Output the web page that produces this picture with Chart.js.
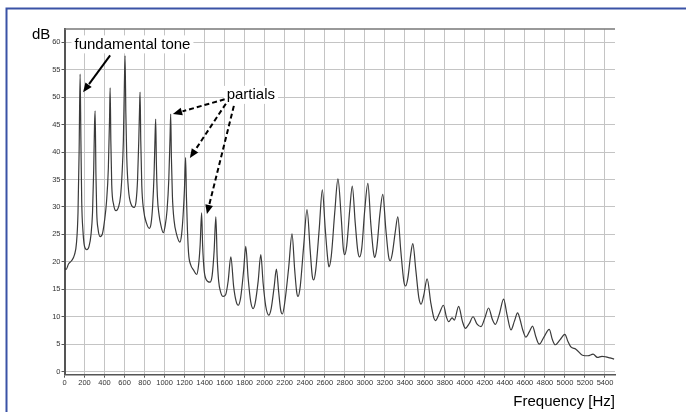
<!DOCTYPE html>
<html>
<head>
<meta charset="utf-8">
<script src="https://cdn.jsdelivr.net/npm/chart.js@4.4.1/dist/chart.umd.min.js"></script>
<style>
  html, body { margin: 0; padding: 0; background: #fff; }
  #wrap { width: 686px; height: 412px; position: relative; }
</style>
</head>
<body>
<div id="wrap"><canvas id="spectrum" width="686" height="412"></canvas></div>
<script>
// spectrum: frequency (Hz) and level (dB)
const freqHz = [
    0, 15, 40, 70, 100, 120, 135, 146, 156, 164, 172, 185, 200, 223,
    245, 265, 280, 292, 300, 306, 314, 322, 335, 356,
    380, 400, 420, 438, 450, 456, 463, 472, 490, 515,
    540, 560, 575, 588, 598, 605, 613, 622, 640, 665, 695,
    715, 730, 742, 750, 755, 762, 772, 790, 820, 848,
    865, 880, 895, 905, 911, 918, 928, 945, 965, 987,
    1005, 1025, 1042, 1055, 1061, 1068, 1078, 1095, 1120, 1153,
    1170, 1185, 1198, 1210, 1218, 1228, 1240, 1260, 1290, 1320,
    1340, 1355, 1370, 1380, 1395, 1415, 1453,
    1475, 1495, 1512, 1525, 1540, 1560, 1585,
    1610, 1635, 1662, 1690, 1715, 1735,
    1760, 1790, 1811, 1835, 1860, 1884,
    1905, 1935, 1961, 1985, 2010, 2041,
    2065, 2095, 2117, 2140, 2160, 2177,
    2200, 2240, 2273, 2300, 2320, 2333,
    2355, 2390, 2423, 2455, 2475, 2490,
    2510, 2545, 2576, 2605, 2630, 2642,
    2665, 2700, 2732, 2765, 2785, 2799,
    2820, 2850, 2875, 2905, 2930, 2948,
    2970, 3000, 3031, 3060, 3085, 3098,
    3120, 3150, 3180, 3210, 3238, 3254,
    3275, 3305, 3330, 3360, 3390, 3407,
    3430, 3460, 3480, 3510, 3540, 3563,
    3590, 3623, 3660, 3690, 3706,
    3745, 3786, 3815, 3839, 3872, 3895, 3938, 3975, 4005,
    4045, 4082, 4120, 4161, 4200, 4237, 4275, 4304,
    4345, 4387, 4420, 4461, 4495, 4527, 4550, 4580, 4609,
    4645, 4676, 4710, 4743, 4790, 4843, 4875, 4903,
    4950, 4999, 5030, 5059, 5109, 5175, 5230, 5281, 5324, 5370, 5408, 5450, 5491
];
const levelDb = [
    18.9, 18.6, 19.6, 20.2, 21.3, 23.5, 29, 40, 54.2, 42, 31, 25.5, 22.8, 22.2,
    22.8, 25, 29, 37, 45, 47.5, 36, 29, 26, 24.6,
    25.2, 27.5, 31, 37, 46, 51.7, 42, 34, 30.5, 29.3,
    30, 32, 36, 42, 52, 57.5, 47, 39, 33, 30.5, 29.9,
    31, 35, 42, 48, 50.9, 42, 34, 29.5, 27, 26.1,
    27, 30, 36, 43, 46, 38, 32, 28.5, 26.5, 25.3,
    26.5, 29.5, 35, 43, 46.9, 39, 32, 27.5, 25, 23.6,
    25, 28.5, 33, 39, 32, 26, 21.5, 19.5, 18.5, 17.7,
    19.5, 23, 28.9, 23, 18.5, 16.8, 16.3,
    17.5, 22, 28.2, 21, 16.5, 14.5, 13.7,
    14, 16.5, 20.9, 15.5, 12.8, 12.1,
    13.5, 18.5, 22.8, 17, 12.8, 11.5,
    12.5, 16.5, 21.3, 16, 12, 10.3,
    11.5, 15.5, 18.7, 14.5, 11.2, 10.5,
    12.5, 19, 25.1, 18.5, 14.5, 13.7,
    15.5, 23, 29.5, 22, 17.5, 16.7,
    18.5, 26, 33.1, 26, 20.5, 19.1,
    21, 29, 35.1, 28, 22.5, 21.3,
    23, 29.5, 33.8, 27, 22, 20.9,
    22.5, 29.5, 34.3, 27, 22, 20.8,
    22.5, 28.5, 32.3, 26, 21, 20.2,
    21.5, 25.5, 28.2, 22, 16.5, 15.6,
    17, 21.5, 23.3, 18.5, 13.5, 12.3,
    14, 16.9, 12.5, 9.8, 9.3,
    10.6, 12.1, 10, 9.1, 9.8, 9.4, 11.9, 9.2, 7.9,
    8.8, 10, 8.7, 8.2, 9.8, 11.6, 9.5, 8.6,
    10.5, 13.2, 10.5, 7.6, 9.2, 10.7, 9.6, 7.5, 6.3,
    7.3, 8.3, 6.3, 5.0, 6.3, 7.7, 5.8, 4.9,
    5.8, 6.8, 5.5, 4.5, 4.1, 3.0, 2.9, 3.2, 2.6, 2.8, 2.7, 2.5, 2.3
];
const xTicks = [];
for (let f = 0; f <= 5400; f += 200) xTicks.push(f);
const yTicks = [0, 5, 10, 15, 20, 25, 30, 35, 40, 45, 50, 55, 60];

const points = freqHz.map((f, i) => ({ x: f, y: levelDb[i] }));

// labels and arrows, anchored in data units [Hz, dB]
const fundamental = { text: 'fundamental tone', at: [100, 59.6], from: [456, 57.6], to: [186, 50.9] };
const partials = {
    text: 'partials', at: [1620, 50.4],
    arrows: [
        { from: [1600, 49.6], to: [1083, 46.9] },
        { from: [1612, 48.8], to: [1253, 38.9] },
        { from: [1692, 48.4], to: [1423, 28.7] }
    ]
};

function arrow(ctx, x1, y1, x2, y2, dashed) {
    const ang = Math.atan2(y2 - y1, x2 - x1);
    const head = 10;
    const bx = x2 - head * Math.cos(ang), by = y2 - head * Math.sin(ang);
    ctx.save();
    ctx.strokeStyle = '#000';
    ctx.fillStyle = '#000';
    ctx.lineWidth = 2;
    if (dashed) ctx.setLineDash([5, 3]);
    ctx.beginPath();
    ctx.moveTo(x1, y1);
    ctx.lineTo(bx, by);
    ctx.stroke();
    ctx.setLineDash([]);
    ctx.beginPath();
    ctx.moveTo(x2, y2);
    ctx.lineTo(x2 - head * Math.cos(ang - 0.4), y2 - head * Math.sin(ang - 0.4));
    ctx.lineTo(x2 - head * Math.cos(ang + 0.4), y2 - head * Math.sin(ang + 0.4));
    ctx.closePath();
    ctx.fill();
    ctx.restore();
}

const decor = {
    id: 'decor',
    beforeDraw(chart) {
        const c = chart.ctx;
        c.save();
        c.fillStyle = '#fff';
        c.fillRect(0, 0, chart.width, chart.height);
        // blue frame
        c.strokeStyle = '#3a52a6';
        c.lineWidth = 2;
        c.beginPath();
        c.moveTo(6.5, 412);
        c.lineTo(6.5, 8.5);
        c.lineTo(686, 8.5);
        c.stroke();
        c.restore();
    },
    afterDraw(chart) {
        const c = chart.ctx;
        const xs = chart.scales.x, ys = chart.scales.y;
        const area = chart.chartArea;
        const px = p => [xs.getPixelForValue(p[0]), ys.getPixelForValue(p[1])];
        c.save();
        // top border of plot
        c.strokeStyle = '#777';
        c.lineWidth = 1.5;
        c.beginPath();
        c.moveTo(area.left, area.top);
        c.lineTo(area.right, area.top);
        c.stroke();

        c.font = '15px Arial, "Liberation Sans", sans-serif';
        c.textBaseline = 'middle';
        c.fillStyle = '#000';
        c.fillText('dB', 32, 35);
        c.textAlign = 'right';
        c.fillText('Frequency [Hz]', 615, 402);
        c.textAlign = 'left';

        // fundamental tone
        let [tx, ty] = px(fundamental.at);
        let w = c.measureText(fundamental.text).width;
        c.fillStyle = '#fff';
        c.fillRect(tx - 3, ty - 9, w + 6, 18);
        c.fillStyle = '#000';
        c.fillText(fundamental.text, tx, ty);
        let a = px(fundamental.from), b = px(fundamental.to);
        arrow(c, a[0], a[1], b[0], b[1], false);

        // partials
        [tx, ty] = px(partials.at);
        w = c.measureText(partials.text).width;
        c.fillStyle = '#fff';
        c.fillRect(tx - 3, ty - 9, w + 6, 18);
        c.fillStyle = '#000';
        c.fillText(partials.text, tx, ty);
        partials.arrows.forEach(ar => {
            const p1 = px(ar.from), p2 = px(ar.to);
            arrow(c, p1[0], p1[1], p2[0], p2[1], true);
        });
        c.restore();
    }
};

const config = {
    type: 'line',
    data: {
        datasets: [{
            data: points,
            borderColor: '#3a3a3a',
            borderWidth: 1.2,
            pointRadius: 0,
            fill: false,
            cubicInterpolationMode: 'monotone'
        }]
    },
    options: {
        responsive: false,
        animation: false,
        events: [],
        layout: { padding: { left: 0, top: 29, right: 71, bottom: 0 } },
        plugins: { legend: { display: false }, tooltip: { enabled: false } },
        scales: {
            x: {
                type: 'linear',
                min: 0,
                max: 5500,
                afterBuildTicks: axis => { axis.ticks = xTicks.map(v => ({ value: v })); },
                afterFit: scale => { scale.height = 37.3; },
                grid: { color: '#c4c4c4', lineWidth: 1, tickLength: 3, tickColor: '#555' },
                border: { color: '#555', width: 1.5 },
                ticks: {
                    autoSkip: false,
                    maxRotation: 0,
                    padding: 1,
                    color: '#333',
                    font: { family: 'Arial', size: 7.5 },
                    callback: v => String(v)
                }
            },
            y: {
                min: -0.55,
                max: 62.4,
                afterBuildTicks: axis => { axis.ticks = yTicks.map(v => ({ value: v })); },
                afterFit: scale => { scale.width = 64.5; },
                grid: { color: '#c4c4c4', lineWidth: 1, tickLength: 3, tickColor: '#555' },
                border: { color: '#555', width: 2 },
                ticks: {
                    autoSkip: false,
                    padding: 1,
                    color: '#333',
                    font: { family: 'Arial', size: 7.5 },
                    callback: v => String(v)
                }
            }
        }
    },
    plugins: [decor]
};

new Chart(document.getElementById('spectrum').getContext('2d'), config);
</script>
</body>
</html>
